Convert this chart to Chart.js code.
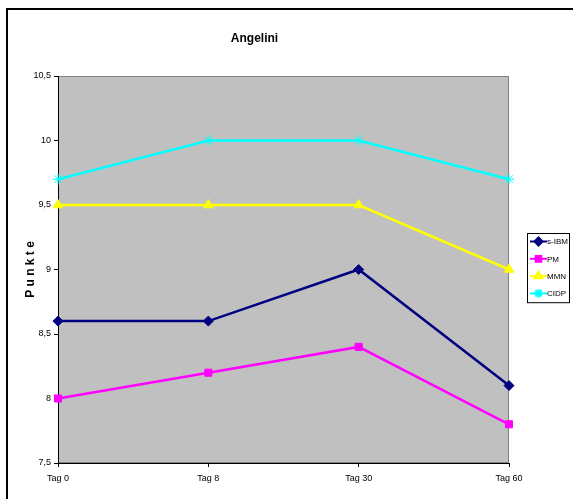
<!DOCTYPE html>
<html>
<head>
<meta charset="utf-8">
<title>Angelini</title>
<script src="https://cdn.jsdelivr.net/npm/chart.js@4"></script>
<style>
  html, body { margin: 0; padding: 0; background: #ffffff; }
  #wrap { width: 573px; height: 499px; }
</style>
</head>
<body>
<div id="wrap"><canvas id="c" width="573" height="499"></canvas></div>
<script>
// Time points and scores per group
const categories = ['Tag 0', 'Tag 8', 'Tag 30', 'Tag 60'];
const seriesNames = ['s-IBM', 'PM', 'MMN', 'CIDP'];
const sIBM = [8.6, 8.6, 9.0, 8.1];
const PM   = [8.0, 8.2, 8.4, 7.8];
const MMN  = [9.5, 9.5, 9.5, 9.0];
const CIDP = [9.7, 10.0, 10.0, 9.7];
const yTicks = [7.5, 8, 8.5, 9, 9.5, 10, 10.5];

const FONT = "'Liberation Sans', Arial, sans-serif";

function series(label, data, color, style, radius) {
  return {
    label, data,
    borderColor: color, backgroundColor: color,
    borderWidth: 2.5,
    pointStyle: style, pointRadius: radius, pointHoverRadius: radius,
    pointBorderColor: color, pointBackgroundColor: color, pointBorderWidth: 1,
    tension: 0, fill: false
  };
}

// Grey plot area, page frame and the boxed legend
const decor = {
  id: 'decor',
  beforeDraw(chart) {
    const { ctx, chartArea: a } = chart;
    ctx.save();
    ctx.fillStyle = '#ffffff';
    ctx.fillRect(0, 0, chart.width, chart.height);
    ctx.strokeStyle = '#000000';
    ctx.lineWidth = 2;
    ctx.strokeRect(7, 9, chart.width + 20, chart.height + 20);
    ctx.fillStyle = '#C0C0C0';
    ctx.fillRect(a.left, a.top, a.right - a.left, a.bottom - a.top);
    ctx.strokeStyle = '#808080';
    ctx.lineWidth = 1;
    ctx.strokeRect(a.left + 0.5, a.top + 0.5, a.right - a.left - 1, a.bottom - a.top - 1);
    ctx.restore();
  },
  afterDraw(chart) {
    const { ctx } = chart;
    const x0 = 527, y0 = 233, w = 42, rowH = 17.3;
    const sets = chart.data.datasets;
    ctx.save();
    ctx.fillStyle = '#ffffff';
    ctx.fillRect(x0, y0, w, rowH * sets.length);
    ctx.strokeStyle = '#000000';
    ctx.lineWidth = 1;
    ctx.strokeRect(x0 + 0.5, y0 + 0.5, w, rowH * sets.length);
    sets.forEach((ds, i) => {
      const cy = y0 + 8.5 + i * rowH;
      ctx.strokeStyle = ds.borderColor;
      ctx.lineWidth = 2;
      ctx.beginPath();
      ctx.moveTo(x0 + 3, cy);
      ctx.lineTo(x0 + 20, cy);
      ctx.stroke();
      ctx.fillStyle = ds.borderColor;
      Chart.helpers.drawPoint(ctx, {
        pointStyle: ds.pointStyle, radius: ds.pointRadius * 0.8,
        borderWidth: 1, rotation: 0
      }, x0 + 11.5, cy);
      ctx.fillStyle = '#000000';
      ctx.font = "8px " + FONT;
      ctx.textBaseline = 'middle';
      ctx.textAlign = 'left';
      ctx.fillText(ds.label, x0 + 20, cy + 0.5);
    });
    ctx.restore();
  }
};

new Chart(document.getElementById('c'), {
  type: 'line',
  data: {
    labels: categories,
    datasets: [
      series(seriesNames[0], sIBM, '#000080', 'rectRot', 5),
      series(seriesNames[1], PM, '#FF00FF', 'rect', 5),
      series(seriesNames[2], MMN, '#FFFF00', 'triangle', 5.5),
      series(seriesNames[3], CIDP, '#00FFFF', 'star', 5.5)
    ]
  },
  options: {
    responsive: false,
    animation: false,
    devicePixelRatio: 1,
    layout: { padding: { left: 0, top: 8, right: 64, bottom: 0 } },
    plugins: {
      legend: { display: false },
      tooltip: { enabled: false },
      title: {
        display: true,
        text: 'Angelini',
        color: '#000000',
        font: { family: FONT, size: 12, weight: 'bold' },
        padding: { top: 23.5, bottom: 30.1 }
      }
    },
    scales: {
      x: {
        offset: false,
        grid: { display: true, drawOnChartArea: false, drawTicks: true, tickLength: 4, color: '#000000' },
        border: { display: true, color: '#000000', width: 1 },
        ticks: { color: '#000000', font: { family: FONT, size: 9 }, padding: 6, maxRotation: 0, autoSkip: false },
        afterFit(scale) { scale.height = 36; }
      },
      y: {
        min: yTicks[0],
        max: yTicks[yTicks.length - 1],
        afterBuildTicks(scale) { scale.ticks = yTicks.map(v => ({ value: v })); },
        grid: { display: true, drawOnChartArea: false, drawTicks: true, tickLength: 4, color: '#000000' },
        border: { display: true, color: '#000000', width: 1 },
        ticks: {
          color: '#000000', font: { family: FONT, size: 9 }, padding: 3,
          callback: v => String(v).replace('.', ',')
        },
        title: {
          display: true,
          text: 'P u n k t e',
          color: '#000000',
          font: { family: FONT, size: 12, weight: 'bold' },
          padding: { top: 23, bottom: 0 }
        },
        afterFit(scale) { scale.width = 58; }
      }
    }
  },
  plugins: [decor]
});
</script>
</body>
</html>
